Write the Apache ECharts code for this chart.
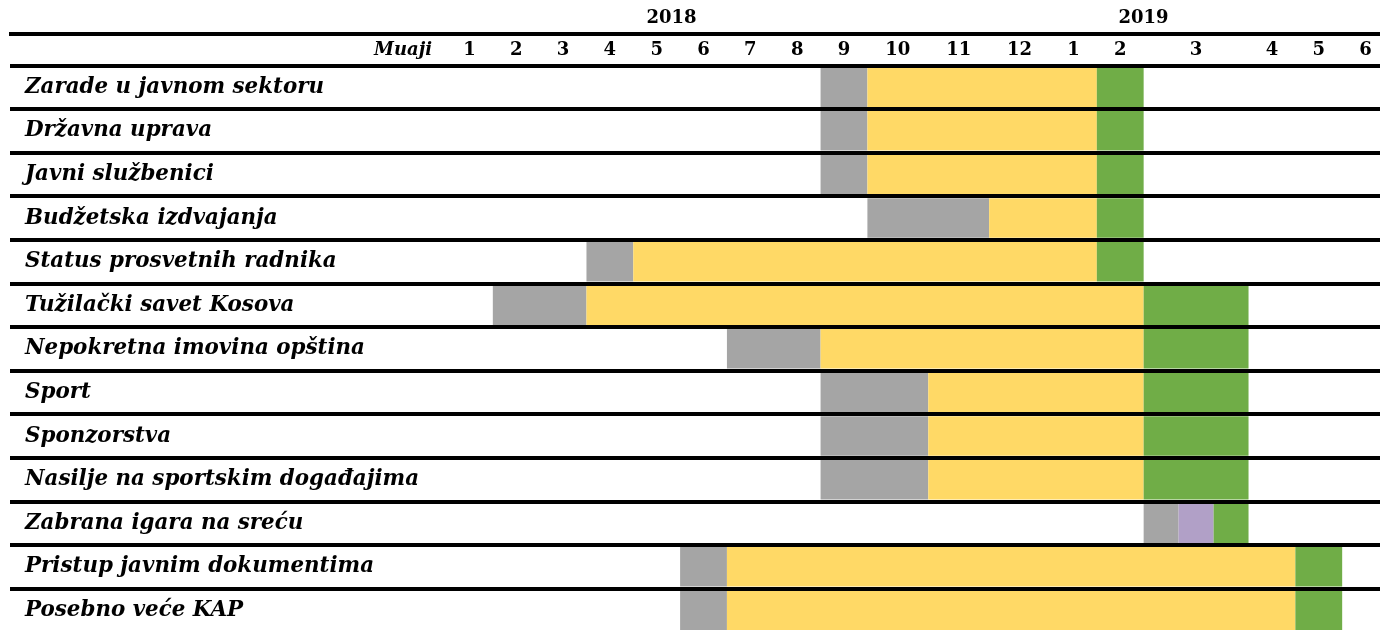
<!DOCTYPE html>
<html><head><meta charset="utf-8">
<script src="https://cdn.jsdelivr.net/npm/echarts@6/dist/echarts.min.js"></script>
<style>html,body{margin:0;padding:0;background:#fff}#c{width:1380px;height:630px}</style>
</head><body><div id="c"></div>
<script>
// ---- data ----
const categories = [
  'Zarade u javnom sektoru',
  'Državna uprava',
  'Javni službenici',
  'Budžetska izdvajanja',
  'Status prosvetnih radnika',
  'Tužilački savet Kosova',
  'Nepokretna imovina opština',
  'Sport',
  'Sponzorstva',
  'Nasilje na sportskim događajima',
  'Zabrana igara na sreću',
  'Pristup javnim dokumentima',
  'Posebno veće KAP'
];
const monthLabels = ['1','2','3','4','5','6','7','8','9','10','11','12','1','2','3','4','5','6'];
const yearLabels = ['2018', '2019'];
const headerLabel = 'Muaji';
// phases: [startMonthIndex, endMonthIndex) counted from Jan 2018 = 0
const phaseGray = [[8,9],[8,9],[8,9],[9,11],[3,4],[1,3],[6,8],[8,10],[8,10],[8,10],[14,14.333],[5,6],[5,6]];
const phaseYellow = [[9,13],[9,13],[9,13],[11,13],[4,13],[3,14],[8,14],[10,14],[10,14],[10,14],null,[6,16],[6,16]];
const phasePurple = [null,null,null,null,null,null,null,null,null,null,[14.333,14.667],null,null];
const phaseGreen = [[13,14],[13,14],[13,14],[13,14],[13,14],[14,15],[14,15],[14,15],[14,15],[14,15],[14.667,15],[16,17],[16,17]];

// ---- layout (relative column widths) ----
const colWeights = [1,1,1,1,1,1,1,1,1,1.3,1.3,1.3,1,1,2.24,1,1,1];
const cum = [0];
colWeights.forEach((w, i) => cum.push(cum[i] + w));
const totalUnits = cum[cum.length - 1];
function pos(m) {
  const i = Math.min(Math.floor(m), colWeights.length - 1);
  return cum[i] + (m - i) * colWeights[i];
}
const centers = colWeights.map((w, i) => cum[i] + w / 2);

const FONT = "'DejaVu Serif', serif";
const ROW_TOP = 65.4, ROW_H = 43.6;
const LINE_W = 4;

function toData(arr) {
  const out = [];
  arr.forEach((p, r) => { if (p) out.push([pos(p[0]), pos(p[1]), r]); });
  return out;
}
function renderBar(params, api) {
  const p0 = api.coord([api.value(0), api.value(2)]);
  const p1 = api.coord([api.value(1), api.value(2)]);
  const h = api.size([0, 1])[1];
  return {
    type: 'rect',
    shape: { x: p0[0], y: p0[1] - h / 2 + LINE_W / 2, width: p1[0] - p0[0], height: h - LINE_W },
    style: { fill: api.visual('color') }
  };
}
function phaseSeries(name, arr, color) {
  return {
    name, type: 'custom', xAxisIndex: 1, yAxisIndex: 1,
    renderItem: renderBar, itemStyle: { color },
    encode: { x: [0, 1], y: 2 }, data: toData(arr), z: 2, silent: true, clip: false
  };
}

const chart = echarts.init(document.getElementById('c'), null, { renderer: 'canvas' });
const gridH = ROW_H * categories.length;
const splitLine = { show: true, interval: 0, lineStyle: { color: '#000', width: LINE_W } };

chart.setOption({
  animation: false,
  backgroundColor: '#fff',
  grid: [
    { left: 10, width: 436, top: ROW_TOP, height: gridH, containLabel: false, outerBoundsMode: 'none' },
    { left: 446, width: 943, top: ROW_TOP, height: gridH, containLabel: false, outerBoundsMode: 'none' }
  ],
  xAxis: [
    { gridIndex: 0, type: 'value', min: 0, max: 1, show: false },
    {
      gridIndex: 1, type: 'value', min: 0, max: totalUnits, position: 'top',
      axisLine: { show: false }, axisTick: { show: false }, splitLine: { show: false },
      axisLabel: {
        customValues: centers, margin: 15.5, verticalAlign: 'middle',
        color: '#000', fontFamily: FONT, fontWeight: 'bold', fontSize: 18,
        formatter: function (v) {
          let best = 0, d = Infinity;
          centers.forEach((c, i) => { if (Math.abs(c - v) < d) { d = Math.abs(c - v); best = i; } });
          return monthLabels[best];
        }
      }
    }
  ],
  yAxis: [
    {
      gridIndex: 0, type: 'category', data: categories, inverse: true, z: 5,
      axisLine: { show: false }, axisTick: { show: false }, splitLine,
      axisLabel: {
        align: 'left', margin: -15, color: '#000', fontFamily: FONT,
        fontWeight: 'bold', fontStyle: 'italic', fontSize: 21.4
      }
    },
    {
      gridIndex: 1, type: 'category', data: categories, inverse: true, z: 5,
      axisLine: { show: false }, axisTick: { show: false }, axisLabel: { show: false }, splitLine
    }
  ],
  graphic: [
    { type: 'line', shape: { x1: 9, y1: 34, x2: 1380, y2: 34 }, style: { stroke: '#000', lineWidth: LINE_W }, z: 10 },
    { type: 'text', x: 432, y: 50, style: { text: headerLabel, fill: '#000', font: "italic bold 18px 'DejaVu Serif'", align: 'right', verticalAlign: 'middle' } },
    { type: 'text', x: 671.5, y: 18, style: { text: yearLabels[0], fill: '#000', font: "bold 18px 'DejaVu Serif'", align: 'center', verticalAlign: 'middle' } },
    { type: 'text', x: 1143.5, y: 18, style: { text: yearLabels[1], fill: '#000', font: "bold 18px 'DejaVu Serif'", align: 'center', verticalAlign: 'middle' } }
  ],
  series: [
    phaseSeries('gray', phaseGray, '#A5A5A5'),
    phaseSeries('yellow', phaseYellow, '#FFD966'),
    phaseSeries('purple', phasePurple, '#B1A0C7'),
    phaseSeries('green', phaseGreen, '#70AD47')
  ]
});
</script>
</body></html>
